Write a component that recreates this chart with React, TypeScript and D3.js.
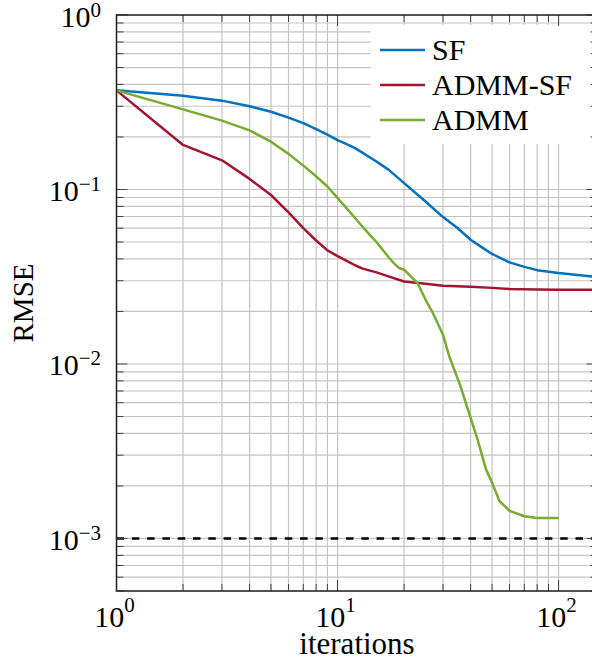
import React from "react";
import * as d3 from "d3";

// iterations (x) and RMSE values (y)
const sfIter = [1, 2, 3, 4, 5, 6, 7, 8, 9, 10, 11, 12, 13, 15, 17, 20, 25, 30, 35, 40, 45, 50, 60, 70, 80, 100, 150];
const sfRmse = [0.37, 0.345, 0.323, 0.3, 0.279, 0.258, 0.24, 0.222, 0.206, 0.192, 0.182, 0.1725, 0.162, 0.1446, 0.13, 0.1088, 0.0853, 0.0695, 0.06, 0.0515, 0.0466, 0.0427, 0.0382, 0.036, 0.0345, 0.0332, 0.0315];

const admmSfIter = [1, 2, 3, 4, 5, 6, 7, 8, 9, 10, 11, 12, 13, 15, 17, 20, 25, 30, 40, 50, 60, 80, 100, 150];
const admmSfRmse = [0.37, 0.18, 0.147, 0.115, 0.093, 0.074, 0.06, 0.051, 0.0448, 0.0415, 0.039, 0.0368, 0.0352, 0.0335, 0.0318, 0.0297, 0.0288, 0.0281, 0.0277, 0.0273, 0.0269, 0.0267, 0.0266, 0.0266];

const admmIter = [1, 2, 3, 4, 5, 6, 7, 8, 9, 10, 11, 12, 13, 14, 15, 17, 18, 19, 20, 23, 25, 27, 30, 32, 36, 40, 43, 47, 50, 54, 60, 70, 80, 100];
const admmRmse = [0.37, 0.288, 0.248, 0.218, 0.188, 0.16, 0.137, 0.119, 0.104, 0.0895, 0.078, 0.0686, 0.061, 0.055, 0.05, 0.041, 0.0377, 0.0355, 0.0347, 0.0291, 0.0234, 0.0196, 0.0147, 0.0111, 0.00745, 0.00491, 0.00369, 0.00248, 0.00209, 0.00164, 0.00144, 0.00134, 0.00131, 0.00131];

const threshold = 1e-3;

const seriesNames = ["SF", "ADMM-SF", "ADMM"];
const seriesColors = ["#0072BD", "#A2142F", "#77AC30"];

const xTicks = [1, 10, 100];
const yTicks = [1, 0.1, 0.01, 0.001];

const W = 592;
const H = 672;
const FONT = "Liberation Serif";
const txt = { fontFamily: FONT };

export default function App() {
  const x = d3.scaleLog().domain([1, 150]).range([116.5, 597.5]);
  const y = d3.scaleLog().domain([5e-4, 1]).range([591, 15]);
  const [x0, x1] = x.range();
  const [y0, y1] = y.range();

  // minor + major grid values
  const xGrid: number[] = [];
  for (const dec of [1, 10, 100]) for (let m = 1; m <= 9; m++) if (dec * m <= 150) xGrid.push(dec * m);
  const yGrid: number[] = [];
  for (const dec of [1e-4, 1e-3, 1e-2, 1e-1]) for (let m = 1; m <= 9; m++) {
    const v = dec * m;
    if (v >= 5e-4 - 1e-12) yGrid.push(v);
  }
  yGrid.push(1);
  const isMajor = (v: number) => Math.abs(Math.log10(v) - Math.round(Math.log10(v))) < 1e-9;

  const line = d3
    .line<[number, number]>()
    .x((d) => x(d[0]))
    .y((d) => y(d[1]));

  const series = [
    sfIter.map((it, i) => [it, sfRmse[i]] as [number, number]),
    admmSfIter.map((it, i) => [it, admmSfRmse[i]] as [number, number]),
    admmIter.map((it, i) => [it, admmRmse[i]] as [number, number]),
  ];

  const legendX = 370.5;
  const legendRows = [50, 85, 120];

  return (
    <svg
      width={W}
      height={H}
      style={{ position: "absolute", left: 0, top: 0, background: "#fff", fontFamily: FONT }}
    >
      <defs>
        <clipPath id="plot">
          <rect x={x0} y={y1} width={x1 - x0} height={y0 - y1} />
        </clipPath>
      </defs>

      {/* grid */}
      <g stroke="#c4c4c4" strokeWidth={1.2}>
        {xGrid.map((v) => (
          <line key={"gx" + v} x1={x(v)} x2={x(v)} y1={y1} y2={y0} />
        ))}
        {yGrid.map((v) => (
          <line key={"gy" + v} x1={x0} x2={x1} y1={y(v)} y2={y(v)} />
        ))}
      </g>

      {/* threshold */}
      <line
        x1={x0}
        x2={x1}
        y1={y(threshold)}
        y2={y(threshold)}
        stroke="#000"
        strokeWidth={2.6}
        strokeDasharray="7.5 7.8"
      />

      {/* series */}
      <g clipPath="url(#plot)" fill="none" strokeWidth={2.5} strokeLinejoin="round">
        {series.map((s, i) => (
          <path key={seriesNames[i]} d={line(s) || ""} stroke={seriesColors[i]} />
        ))}
      </g>

      {/* legend */}
      <rect x={legendX} y={25} width={x1 - legendX} height={119} fill="#fff" />
      {seriesNames.map((name, i) => (
        <g key={name}>
          <line x1={380} x2={425} y1={legendRows[i]} y2={legendRows[i]} stroke={seriesColors[i]} strokeWidth={2.5} />
          <text x={432} y={legendRows[i] + 10} fontSize={30} fill="#000" style={txt}>
            {name}
          </text>
        </g>
      ))}

      {/* ticks */}
      <g stroke="#444" strokeWidth={1}>
        {xGrid.map((v) => {
          const len = isMajor(v) ? 11 : 7;
          return (
            <g key={"tx" + v}>
              <line x1={x(v)} x2={x(v)} y1={y0} y2={y0 - len} />
              <line x1={x(v)} x2={x(v)} y1={y1} y2={y1 + len} />
            </g>
          );
        })}
        {yGrid.map((v) => {
          const len = isMajor(v) ? 11 : 7;
          return (
            <g key={"ty" + v}>
              <line x1={x0} x2={x0 + len} y1={y(v)} y2={y(v)} />
              <line x1={x1} x2={x1 - len} y1={y(v)} y2={y(v)} />
            </g>
          );
        })}
      </g>

      {/* frame */}
      <rect x={x0} y={y1} width={x1 - x0} height={y0 - y1} fill="none" stroke="#222" strokeWidth={1.5} />

      {/* x tick labels */}
      {xTicks.map((v) => (
        <text key={"lx" + v} x={x(v) - 2} y={627} textAnchor="middle" fontSize={30} fill="#000" style={txt}>
          10
          <tspan fontSize={21} dy={-15}>
            {Math.round(Math.log10(v))}
          </tspan>
        </text>
      ))}

      {/* y tick labels */}
      {yTicks.map((v) => {
        const e = Math.round(Math.log10(v));
        return (
          <text key={"ly" + v} x={101} y={y(v) + 11.5} textAnchor="end" fontSize={30} fill="#000" style={txt}>
            10
            <tspan fontSize={21} dy={-10}>
              {e < 0 ? "\u2212" + Math.abs(e) : e}
            </tspan>
          </text>
        );
      })}

      {/* axis labels */}
      <text x={(x0 + x1) / 2} y={654} textAnchor="middle" fontSize={31} fill="#000" style={txt}>
        iterations
      </text>
      <text
        transform={`translate(33,${(y0 + y1) / 2}) rotate(-90)`}
        textAnchor="middle"
        fontSize={29}
        fill="#000"
        style={txt}
      >
        RMSE
      </text>
    </svg>
  );
}
